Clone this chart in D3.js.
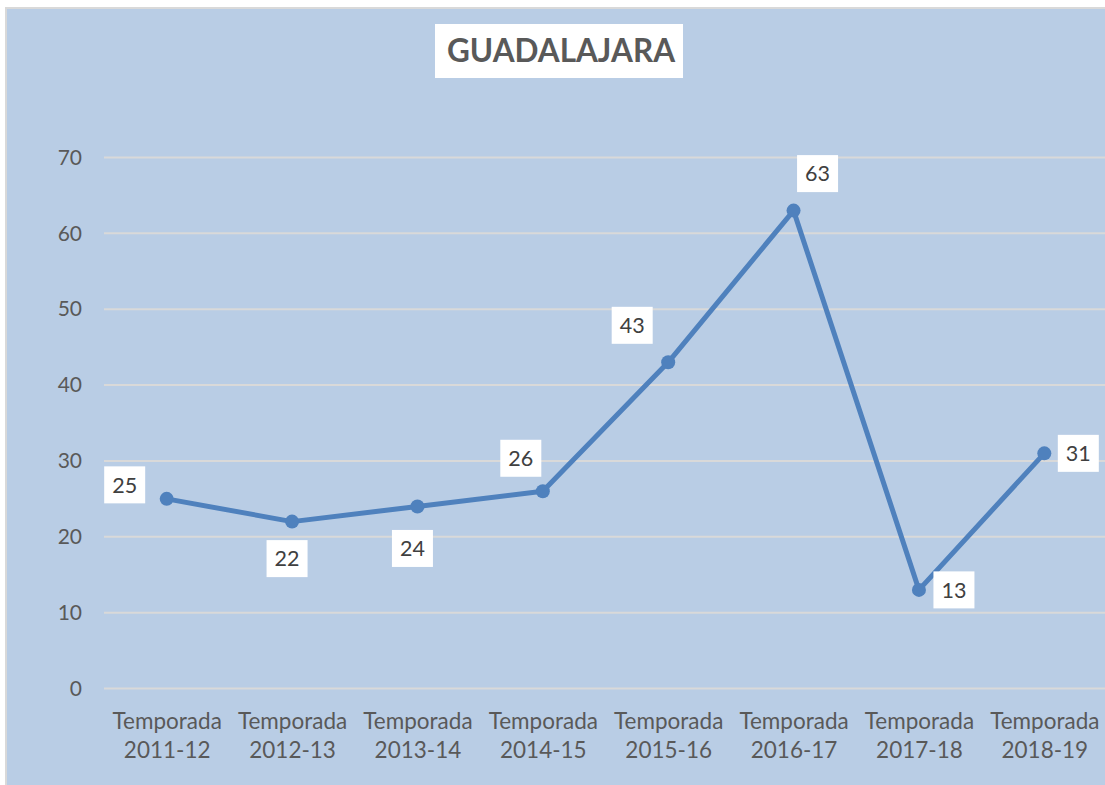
<!DOCTYPE html>
<html><head><meta charset="utf-8">
<script src="https://cdn.jsdelivr.net/npm/d3@7"></script>
<style>body{margin:0;background:#fff;}svg{display:block;}</style>
</head><body>
<svg id="c" width="1105" height="785"></svg>
<script>
const categories = ["Temporada 2011-12","Temporada 2012-13","Temporada 2013-14","Temporada 2014-15","Temporada 2015-16","Temporada 2016-17","Temporada 2017-18","Temporada 2018-19"];
const values = [25,22,24,26,43,63,13,31];
const yTicks = [0,10,20,30,40,50,60,70];
const title = "GUADALAJARA";
// label box offsets relative to point (layout only)
const labelOffsets = [[-42,-14],[-5,37],[-5,42],[-22,-33],[-36,-37],[24,-37],[35,0],[34,0]];

const svg = d3.select("#c");
const font = "Lato, 'Open Sans', sans-serif";
svg.append("rect").attr("x",6).attr("y",8).attr("width",1120).attr("height",800)
  .attr("fill","#b9cde5").attr("stroke","#d9d9d9").attr("stroke-width",2);

const x = d3.scalePoint().domain(categories).range([104,1107]).padding(0.5);
const y = d3.scaleLinear().domain([0,70]).range([688.5,157.5]);

// gridlines
svg.append("g").selectAll("line").data(yTicks).join("line")
  .attr("x1",104).attr("x2",1105).attr("y1",d=>y(d)).attr("y2",d=>y(d))
  .attr("stroke","#d9d9d9").attr("stroke-width",2);

// y axis via d3 axis
const ya = svg.append("g").attr("transform","translate(104,0)")
  .call(d3.axisLeft(y).tickValues(yTicks).tickSize(0).tickPadding(22));
ya.select(".domain").remove();
ya.selectAll("text").attr("font-family",font).attr("font-size",21).attr("fill","#595959");

// x axis
const xa = svg.append("g").attr("transform","translate(0,688.5)")
  .call(d3.axisBottom(x).tickSize(0).tickFormat(""));
xa.select(".domain").remove();
xa.selectAll(".tick").each(function(d){
  const parts = d.split(" ");
  const t = d3.select(this).append("text").attr("font-family",font).attr("font-size",22.5)
    .attr("fill","#595959").attr("text-anchor","middle");
  t.append("tspan").attr("x",0).attr("y",40).text(parts[0]);
  t.append("tspan").attr("x",0).attr("y",69).text(parts[1]);
});

// line
const line = d3.line().x((d,i)=>x(categories[i])).y(d=>y(d));
svg.append("path").datum(values).attr("d",line).attr("fill","none")
  .attr("stroke","#4f81bd").attr("stroke-width",5).attr("stroke-linejoin","round");
svg.append("g").selectAll("circle").data(values).join("circle")
  .attr("cx",(d,i)=>x(categories[i])).attr("cy",d=>y(d)).attr("r",7).attr("fill","#4f81bd");

// labels
const lg = svg.append("g").selectAll("g").data(values).join("g")
  .attr("transform",(d,i)=>`translate(${x(categories[i])+labelOffsets[i][0]},${y(d)+labelOffsets[i][1]})`);
lg.append("rect").attr("x",-20.5).attr("y",-18.5).attr("width",41).attr("height",37).attr("fill","#fff");
lg.append("text").attr("text-anchor","middle").attr("dy","0.36em").attr("font-family",font)
  .attr("font-size",21.5).attr("fill","#404040").text(d=>d);

// title
svg.append("rect").attr("x",435).attr("y",24).attr("width",248).attr("height",54).attr("fill","#fff");
svg.append("text").attr("x",561).attr("y",51).attr("dy","0.36em").attr("text-anchor","middle")
  .attr("font-family",font).attr("font-weight","bold").attr("font-size",31.5).attr("fill","#595959").text(title);
</script>
</body></html>
